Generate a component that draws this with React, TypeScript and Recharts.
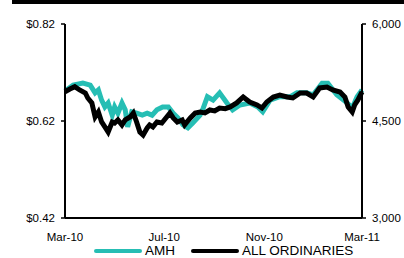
import React from 'react';
import { LineChart, Line, XAxis, YAxis } from 'recharts';

// days since 1 Mar 2010
const amhDays = [
  0, 10, 22, 31, 37, 41, 45, 49, 53, 58, 61, 65, 70, 74, 77, 82, 88, 95, 101, 107,
  113, 120, 127, 133, 139, 145, 151, 157, 166, 170, 175, 182, 190, 199, 206, 215, 227, 237, 243, 252,
  264, 277, 285, 297, 305, 316, 323, 334, 347, 353, 359, 365,
];
const amhPrice = [
  0.682, 0.694, 0.698, 0.694, 0.678, 0.684, 0.663, 0.649, 0.657, 0.632, 0.649, 0.636, 0.657, 0.643, 0.608, 0.639, 0.636, 0.632, 0.636, 0.632,
  0.643, 0.649, 0.649, 0.636, 0.626, 0.612, 0.606, 0.616, 0.632, 0.647, 0.67, 0.663, 0.678, 0.657, 0.643, 0.653, 0.657, 0.649, 0.639, 0.663,
  0.67, 0.67, 0.678, 0.678, 0.674, 0.698, 0.698, 0.674, 0.657, 0.647, 0.67, 0.684,
];

const ordDays = [
  0, 6, 12, 18, 25, 28, 33, 37, 41, 45, 49, 53, 58, 61, 65, 70, 74, 80, 84, 88,
  92, 96, 101, 104, 108, 113, 119, 125, 129, 133, 138, 144, 147, 154, 160, 166, 172, 178, 184, 190,
  197, 203, 211, 219, 227, 236, 242, 248, 256, 264, 273, 280, 289, 297, 305, 313, 322, 329, 338, 344,
  348, 353, 356, 360, 365,
];
const ordIndex = [
  4953, 4995, 5031, 4980, 4933, 4856, 4779, 4562, 4640, 4485, 4408, 4330, 4485, 4469, 4516, 4439, 4516, 4562, 4624, 4485,
  4330, 4284, 4392, 4439, 4408, 4485, 4469, 4562, 4624, 4547, 4485, 4516, 4439, 4547, 4624, 4640, 4625, 4670, 4655, 4701,
  4690, 4717, 4779, 4871, 4794, 4748, 4701, 4794, 4871, 4902, 4871, 4856, 4933, 4933, 4871, 5011, 5026, 4980, 4949, 4871,
  4717, 4640, 4748, 4825, 4949,
];

const monthLabels = ['Mar-10', 'Jul-10', 'Nov-10', 'Mar-11'];
const monthDays = [0, 122, 245, 365];

const leftTicks = [0.42, 0.62, 0.82];
const rightTicks = [3000, 4500, 6000];

const amhData = amhDays.map((d, i) => ({ day: d, v: amhPrice[i] }));
const ordData = ordDays.map((d, i) => ({ day: d, v: ordIndex[i] }));

const font = '"Liberation Sans", Arial, sans-serif';
const tickStyle = { fill: '#000', fontSize: 11.5, fontFamily: font };
const axisStroke = { stroke: '#000', strokeWidth: 2 };
const tickStroke = { stroke: '#000', strokeWidth: 1.5 };
const teal = '#26BEB4';

export default function App() {
  return (
    <div style={{ position: 'absolute', left: 0, top: 0, width: 404, height: 258, background: '#fff', overflow: 'hidden' }}>
      <div style={{ position: 'absolute', left: 12, top: 0, width: 392, height: 4, background: '#000' }} />
      <LineChart width={404} height={258} margin={{ top: 24, right: 0, bottom: 0, left: 0 }}>
        <XAxis
          dataKey="day"
          type="number"
          domain={[0, 365]}
          ticks={monthDays}
          tickFormatter={(v: number) => monthLabels[monthDays.indexOf(v)] ?? ''}
          height={40}
          tickSize={0}
          tickMargin={15}
          tick={tickStyle}
          axisLine={axisStroke}
          tickLine={false}
          interval={0}
          allowDuplicatedCategory={false}
        />
        <XAxis
          xAxisId="inner"
          dataKey="day"
          type="number"
          domain={[0, 365]}
          ticks={monthDays}
          tickFormatter={() => ''}
          mirror
          height={0}
          tickSize={4}
          axisLine={false}
          tickLine={tickStroke}
          interval={0}
        />
        <YAxis
          yAxisId="left"
          orientation="left"
          width={65}
          domain={[0.42, 0.82]}
          ticks={leftTicks}
          tickFormatter={(v: number) => `$${v.toFixed(2)}`}
          tickSize={4}
          tickMargin={6}
          tick={tickStyle}
          axisLine={axisStroke}
          tickLine={tickStroke}
          interval={0}
        />
        <YAxis
          yAxisId="right"
          orientation="right"
          width={42}
          domain={[3000, 6000]}
          ticks={rightTicks}
          tickFormatter={(v: number) => v.toLocaleString('en-US')}
          tickSize={4}
          tickMargin={6}
          tick={tickStyle}
          axisLine={axisStroke}
          tickLine={tickStroke}
          interval={0}
        />
        <YAxis
          yAxisId="rightInner"
          orientation="right"
          mirror
          domain={[3000, 6000]}
          ticks={rightTicks}
          tickFormatter={() => ''}
          tickSize={4}
          axisLine={false}
          tickLine={tickStroke}
          interval={0}
        />
        <Line
          data={amhData}
          yAxisId="left"
          type="linear"
          dataKey="v"
          name="AMH"
          stroke={teal}
          strokeWidth={5}
          dot={false}
          isAnimationActive={false}
        />
        <Line
          data={ordData}
          yAxisId="right"
          type="linear"
          dataKey="v"
          name="ALL ORDINARIES"
          stroke="#000"
          strokeWidth={5}
          dot={false}
          isAnimationActive={false}
        />
      </LineChart>
      <div style={{ position: 'absolute', left: 94, top: 249, width: 48, height: 4, borderRadius: 2, background: teal }} />
      <div style={{ position: 'absolute', left: 145, top: 244, fontFamily: font, fontSize: 13.5, lineHeight: 1, color: '#000' }}>AMH</div>
      <div style={{ position: 'absolute', left: 191, top: 249, width: 48, height: 4, borderRadius: 2, background: '#000' }} />
      <div style={{ position: 'absolute', left: 242, top: 244, fontFamily: font, fontSize: 13.5, lineHeight: 1, color: '#000' }}>ALL ORDINARIES</div>
    </div>
  );
}
